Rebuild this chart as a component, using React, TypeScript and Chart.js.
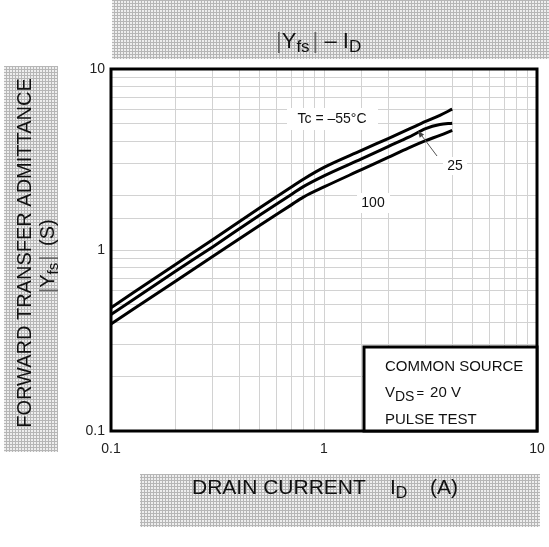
import React, { useEffect, useRef } from "react";
import { Chart, registerables } from "chart.js";

Chart.register(...registerables);

const FONT = '"Liberation Sans", Arial, sans-serif';

// Drain current I_D (A)
const current = [0.1, 0.2, 0.3, 0.5, 0.7, 0.8, 1.0, 1.5, 2.0, 2.5, 3.0, 3.5, 4.0];
// |Yfs| (S) for each case temperature
const yfsMinus55 = [0.48, 0.83, 1.14, 1.71, 2.22, 2.46, 2.86, 3.55, 4.13, 4.65, 5.13, 5.55, 6.0];
const yfs25 = [0.44, 0.76, 1.04, 1.56, 2.02, 2.24, 2.57, 3.19, 3.73, 4.2, 4.68, 4.93, 5.02];
const yfs100 = [0.39, 0.67, 0.92, 1.37, 1.77, 1.96, 2.23, 2.78, 3.25, 3.67, 4.02, 4.3, 4.58];
const seriesNames = ["Tc = –55°C", "25", "100"];
const axisTicks = [0.1, 1, 10];

type Run = { text: string; size: number; dy?: number; color?: string; gap?: number };

function drawRuns(ctx: CanvasRenderingContext2D, x: number, y: number, runs: Run[]) {
  ctx.textAlign = "left";
  ctx.textBaseline = "alphabetic";
  for (const r of runs) {
    ctx.font = `${r.size}px ${FONT}`;
    ctx.fillStyle = r.color || "#111";
    ctx.fillText(r.text, x, y + (r.dy || 0));
    x += ctx.measureText(r.text).width + (r.gap || 0);
  }
}

function makeHatch(ctx: CanvasRenderingContext2D) {
  const c = document.createElement("canvas");
  c.width = 3;
  c.height = 3;
  const g = c.getContext("2d")!;
  g.fillStyle = "#eeeeee";
  g.fillRect(0, 0, 3, 3);
  g.fillStyle = "#b6b6b6";
  g.fillRect(0, 0, 1, 3);
  g.fillRect(0, 0, 3, 1);
  return ctx.createPattern(c, "repeat")!;
}

const decorPlugin = {
  id: "decor",
  beforeDraw(chart: any) {
    const ctx = chart.ctx as CanvasRenderingContext2D;
    ctx.save();
    ctx.fillStyle = "#ffffff";
    ctx.fillRect(0, 0, chart.width, chart.height);
    const pat = makeHatch(ctx);
    ctx.fillStyle = pat;
    ctx.fillRect(112, 0, 437, 59); // title band
    ctx.fillRect(4, 66, 54, 386); // y label band
    ctx.fillRect(140, 474, 400, 53); // x label band
    ctx.restore();
  },
  beforeDatasetsDraw(chart: any) {
    const ctx = chart.ctx as CanvasRenderingContext2D;
    ctx.save();
    ctx.fillStyle = "#ffffff";
    ctx.fillRect(287, 108, 91, 22);
    ctx.fillRect(357, 193, 33, 20);
    ctx.fillRect(443, 157, 24, 18);
    ctx.restore();
  },
  afterDatasetsDraw(chart: any) {
    const ctx = chart.ctx as CanvasRenderingContext2D;
    const a = chart.chartArea;
    ctx.save();
    // plot frame
    ctx.strokeStyle = "#000";
    ctx.lineWidth = 3;
    ctx.strokeRect(a.left, a.top, a.right - a.left, a.bottom - a.top);

    // curve labels
    ctx.fillStyle = "#111";
    ctx.font = `14px ${FONT}`;
    ctx.textAlign = "center";
    ctx.textBaseline = "middle";
    ctx.fillText(seriesNames[0], 332, 119);
    ctx.fillText(seriesNames[1], 455, 166);
    ctx.fillText(seriesNames[2], 373, 203);

    // arrow for 25
    ctx.strokeStyle = "#555";
    ctx.lineWidth = 1;
    ctx.beginPath();
    ctx.moveTo(437, 156);
    ctx.lineTo(419, 132);
    ctx.stroke();
    ctx.fillStyle = "#444";
    ctx.beginPath();
    const ang = Math.atan2(132 - 156, 419 - 437);
    ctx.moveTo(418, 131);
    ctx.lineTo(418 - 7 * Math.cos(ang - 0.4), 131 - 7 * Math.sin(ang - 0.4));
    ctx.lineTo(418 - 7 * Math.cos(ang + 0.4), 131 - 7 * Math.sin(ang + 0.4));
    ctx.closePath();
    ctx.fill();

    // condition box
    ctx.fillStyle = "#fff";
    ctx.fillRect(364, 347, a.right - 364, a.bottom - 347);
    ctx.strokeStyle = "#000";
    ctx.lineWidth = 3;
    ctx.strokeRect(364, 347, a.right - 364, a.bottom - 347);
    drawRuns(ctx, 385, 371, [{ text: "COMMON SOURCE", size: 15 }]);
    drawRuns(ctx, 385, 397, [
      { text: "V", size: 15 },
      { text: "DS", size: 14, dy: 4, gap: 2 },
      { text: "=", size: 13, gap: 6 },
      { text: "20 V", size: 15 },
    ]);
    drawRuns(ctx, 385, 424, [{ text: "PULSE TEST", size: 15 }]);
    ctx.restore();
  },
  afterDraw(chart: any) {
    const ctx = chart.ctx as CanvasRenderingContext2D;
    ctx.save();
    // title
    drawRuns(ctx, 276, 48, [
      { text: "|", size: 22, color: "#666" },
      { text: "Y", size: 22 },
      { text: "fs", size: 17, dy: 4, gap: 3 },
      { text: "|", size: 22, color: "#666" },
      { text: " – ", size: 22 },
      { text: "I", size: 22 },
      { text: "D", size: 17, dy: 4 },
    ]);
    // x label
    drawRuns(ctx, 192, 494, [{ text: "DRAIN CURRENT", size: 21 }]);
    drawRuns(ctx, 390, 494, [
      { text: "I", size: 21 },
      { text: "D", size: 16, dy: 4 },
    ]);
    drawRuns(ctx, 430, 494, [{ text: "(A)", size: 21 }]);
    // y label (rotated)
    ctx.save();
    ctx.translate(31, 253);
    ctx.rotate(-Math.PI / 2);
    ctx.font = `20px ${FONT}`;
    ctx.fillStyle = "#111";
    ctx.textAlign = "center";
    ctx.textBaseline = "alphabetic";
    ctx.fillText("FORWARD TRANSFER ADMITTANCE", 0, 0);
    ctx.restore();
    ctx.save();
    ctx.translate(54, 0);
    ctx.rotate(-Math.PI / 2);
    drawRuns(ctx, -293, 0, [
      { text: "|", size: 20, color: "#666" },
      { text: "Y", size: 20 },
      { text: "fs", size: 15, dy: 4, gap: 2 },
      { text: "|", size: 20, color: "#666" },
    ]);
    drawRuns(ctx, -246, 0, [{ text: "(S)", size: 20 }]);
    ctx.restore();
    ctx.restore();
  },
};

function tickLabel(v: any) {
  const n = Number(v);
  for (const t of axisTicks) {
    if (Math.abs(n - t) < t * 1e-6) return String(t);
  }
  return "";
}

export default function App() {
  const ref = useRef<HTMLCanvasElement | null>(null);
  useEffect(() => {
    if (!ref.current) return;
    const mk = (ys: number[]) => current.map((x, i) => ({ x, y: ys[i] }));
    const line = (label: string, ys: number[]) => ({
      label,
      data: mk(ys),
      showLine: true,
      borderColor: "#000",
      borderWidth: 3,
      pointRadius: 0,
      fill: false,
      cubicInterpolationMode: "monotone" as const,
    });
    const gridOpts = { color: "#d2d2d2", lineWidth: 1, drawTicks: false };
    const tickFont = { size: 14, family: FONT };
    const chart = new Chart(ref.current, {
      type: "scatter",
      data: {
        datasets: [
          line(seriesNames[0], yfsMinus55),
          line(seriesNames[1], yfs25),
          line(seriesNames[2], yfs100),
        ],
      },
      options: {
        responsive: false,
        animation: false,
        devicePixelRatio: 1,
        layout: { padding: { left: 0, right: 12, top: 69, bottom: 0 } },
        plugins: { legend: { display: false }, tooltip: { enabled: false } },
        scales: {
          x: {
            type: "logarithmic",
            min: 0.1,
            max: 10,
            grid: gridOpts,
            border: { display: false },
            ticks: {
              autoSkip: false,
              maxRotation: 0,
              padding: 10,
              color: "#222",
              font: tickFont,
              callback: tickLabel,
            },
            afterFit: (s: any) => {
              s.height = 116;
              s.paddingLeft = 0;
              s.paddingRight = 0;
            },
          },
          y: {
            type: "logarithmic",
            min: 0.1,
            max: 10,
            grid: gridOpts,
            border: { display: false },
            ticks: {
              autoSkip: false,
              padding: 6,
              color: "#222",
              font: tickFont,
              callback: tickLabel,
            },
            afterFit: (s: any) => {
              s.width = 111;
              s.paddingTop = 0;
              s.paddingBottom = 0;
            },
          },
        },
      },
      plugins: [decorPlugin],
    } as any);
    return () => chart.destroy();
  }, []);
  return (
    <div style={{ position: "fixed", left: 0, top: 0, width: 549, height: 547 }}>
      <canvas ref={ref} width={549} height={547} style={{ display: "block" }} />
    </div>
  );
}
